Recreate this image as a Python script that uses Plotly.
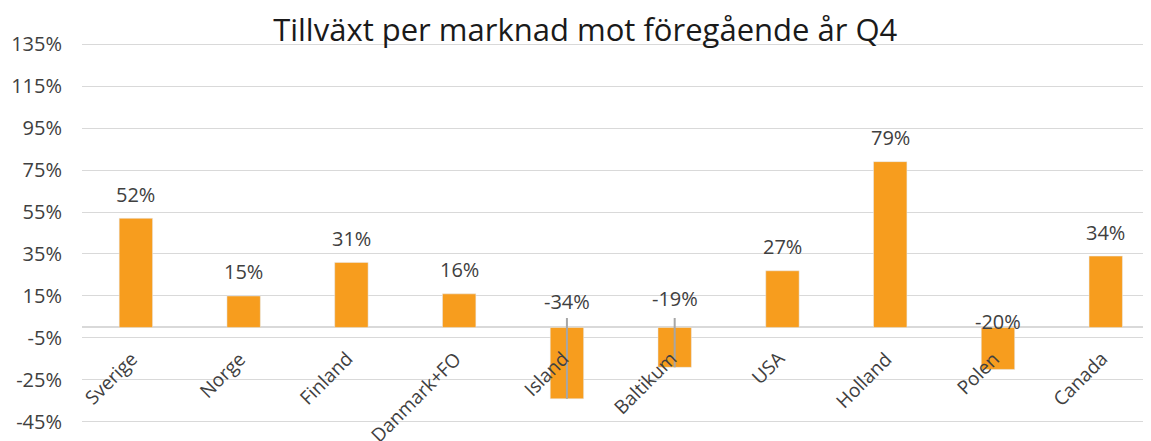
import plotly.graph_objects as go

categories = ["Sverige", "Norge", "Finland", "Danmark+FO", "Island", "Baltikum",
              "USA", "Holland", "Polen", "Canada"]
growth = [52, 15, 31, 16, -34, -19, 27, 79, -20, 34]
leader_top = [None, None, None, None, 4.5, 4.5, None, None, None, None]
y_ticks = [-45, -25, -5, 15, 35, 55, 75, 95, 115, 135]
title_text = "Tillväxt per marknad mot föregående år Q4"

FONT = "Open Sans"
ORANGE = "#F79D1E"
TXT = "#404040"

err_plus = [(t - v) if t is not None else 0 for t, v in zip(leader_top, growth)]
err_minus = [0 for _ in growth]

fig = go.Figure()
fig.add_trace(go.Bar(
    x=categories, y=growth, marker_color=ORANGE, width=0.31,
    error_y=dict(type="data", symmetric=False, array=err_plus, arrayminus=err_minus,
                 color="#A6A6A6", thickness=2, width=0),
    hoverinfo="x+y",
))

annotations = []
neg_shift = {"Island": 26, "Baltikum": 29, "Polen": 6}
for c, v in zip(categories, growth):
    if v >= 0:
        annotations.append(dict(x=c, y=v, yref="y", xref="x", text=f"{v}%",
                                showarrow=False, yanchor="middle", yshift=24,
                                font=dict(family=FONT, size=20, color=TXT)))
    else:
        annotations.append(dict(x=c, y=0, yref="y", xref="x", text=f"{v}%",
                                showarrow=False, yanchor="middle",
                                yshift=neg_shift.get(c, 24),
                                font=dict(family=FONT, size=20, color=TXT)))
    annotations.append(dict(x=c, y=0, xref="x", yref="y", text=c, showarrow=False,
                            textangle=-45, xanchor="right", yanchor="top",
                            xshift=10, yshift=-16,
                            font=dict(family=FONT, size=19, color=TXT)))

fig.update_layout(
    width=1143, height=433,
    margin=dict(l=74, r=0, t=34, b=17),
    paper_bgcolor="white", plot_bgcolor="white",
    showlegend=False,
    title=dict(text=title_text, x=0.505, xanchor="center", y=0.948, yanchor="middle",
               font=dict(family=FONT, size=31, color="#1a1a1a")),
    xaxis=dict(range=[-0.5, 9.42], showticklabels=False, showgrid=False,
               zeroline=False, showline=False, ticks=""),
    yaxis=dict(range=[-46, 136], tickvals=y_ticks,
               ticktext=[f"{t}%" for t in y_ticks],
               showgrid=True, gridcolor="#D9D9D9", gridwidth=1,
               zeroline=True, zerolinecolor="#D9D9D9", zerolinewidth=1.5,
               showline=False, ticks="", ticklabelstandoff=19,
               tickfont=dict(family=FONT, size=20, color=TXT)),
    annotations=annotations,
)

fig.write_html("out.html")
